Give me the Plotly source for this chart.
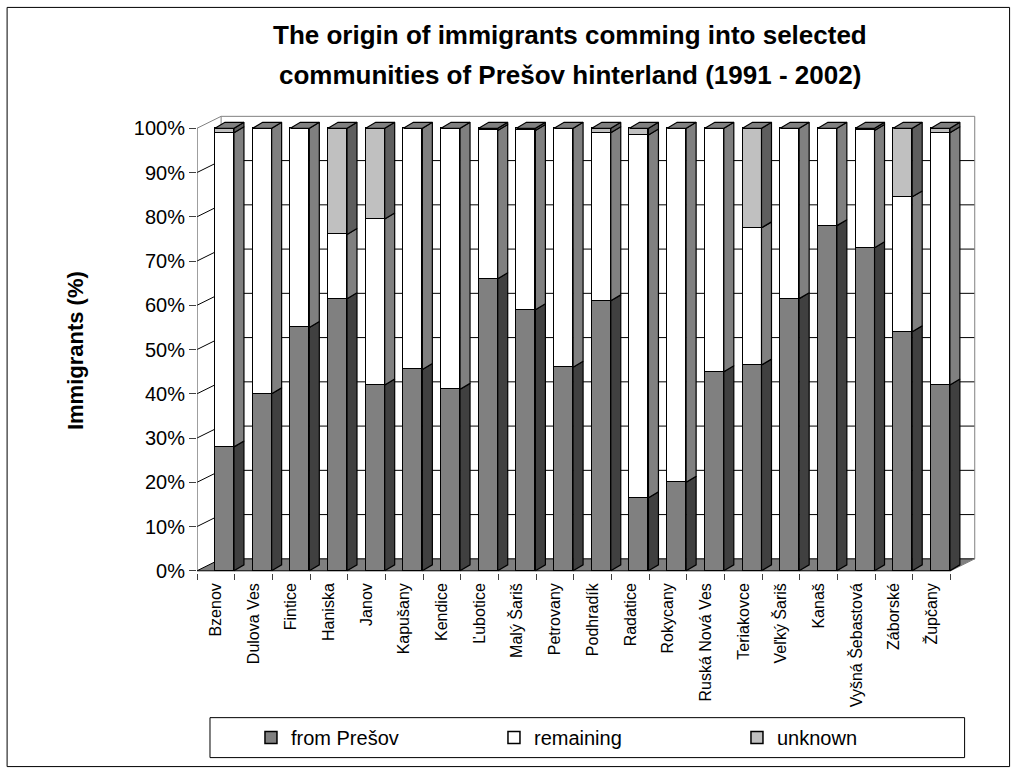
import plotly.graph_objects as go

# ---------------- data ----------------
categories = ["Bzenov", "Dulova Ves", "Fintice", "Haniska", "Janov", "Kapušany", "Kendice",
              "Ľubotice", "Malý Šariš", "Petrovany", "Podhradík", "Radatice", "Rokycany",
              "Ruská Nová Ves", "Teriakovce", "Veľký Šariš", "Kanaš", "Vyšná Šebastová",
              "Záborské", "Župčany"]
from_presov = [28, 40, 55, 61.5, 42, 45.5, 41, 66, 59, 46, 61, 16.5, 20, 45, 46.5, 61.5, 78, 73, 54, 42]
remaining = [71, 60, 45, 14.5, 37.5, 54.5, 59, 33.5, 40.5, 54, 38, 82, 80, 55, 31, 38.5, 22, 26.5, 30.5, 57]
unknown = [1, 0, 0, 24, 20.5, 0, 0, 0.5, 0.5, 0, 1, 1.5, 0, 0, 22.5, 0, 0, 0.5, 15.5, 1]
series_names = ["from Prešov", "remaining", "unknown"]
y_ticks = [0, 10, 20, 30, 40, 50, 60, 70, 80, 90, 100]
y_tick_text = [f"{v}%" for v in y_ticks]

# ---------------- styling / geometry ----------------
FONT = "Liberation Sans, Arial, sans-serif"
front_colors = ["#808080", "#FFFFFF", "#C0C0C0"]
side_colors = ["#404040", "#808080", "#5E5E5E"]
top_color = "#808080"

W, H = 1016, 772
L, R_px = 197, 977.4
B_px, T_px = 573.2, 114.7
X_RANGE = [-0.5, 20.2]
Y_RANGE = [-0.5, 103]

bar_offset, bar_width = -0.023, 0.504   # front face, in category units
side_dx, side_dy = 0.265, 1.35          # bar depth
wall_dx, wall_dy = 0.64, 2.7            # wall depth

def xp(px):
    return (px - L) / (R_px - L)

def yp(py):
    return (B_px - py) / (B_px - T_px)

n = len(categories)
xs = list(range(n))
series = [from_presov, remaining, unknown]

fig = go.Figure()

# front faces (stacked bars)
for name, vals, col in zip(series_names, series, front_colors):
    fig.add_trace(go.Bar(
        x=xs, y=[v if v > 0 else None for v in vals], name=name,
        offset=bar_offset, width=bar_width,
        marker=dict(color=col, line=dict(color="black", width=1.5)),
        cliponaxis=False, hoverinfo="skip"))

# side faces (derived from the stacked data)
for si, (vals, col) in enumerate(zip(series, side_colors)):
    px_, py_ = [], []
    for i in xs:
        lo = sum(series[k][i] for k in range(si))
        hi = lo + vals[i]
        if vals[i] <= 0:
            continue
        x1 = i + bar_offset + bar_width
        px_ += [x1, x1 + side_dx, x1 + side_dx, x1, x1, None]
        py_ += [lo, lo + side_dy, hi + side_dy, hi, lo, None]
    fig.add_trace(go.Scatter(x=px_, y=py_, mode="lines", fill="toself", fillcolor=col,
                             line=dict(color="black", width=1.2), showlegend=False,
                             hoverinfo="skip", cliponaxis=False))

# top faces
tx, ty = [], []
for i in xs:
    tot = from_presov[i] + remaining[i] + unknown[i]
    x0 = i + bar_offset
    x1 = x0 + bar_width
    tx += [x0, x0 + side_dx, x1 + side_dx, x1, x0, None]
    ty += [tot, tot + side_dy, tot + side_dy, tot, tot, None]
fig.add_trace(go.Scatter(x=tx, y=ty, mode="lines", fill="toself", fillcolor=top_color,
                         line=dict(color="black", width=1.2), showlegend=False,
                         hoverinfo="skip", cliponaxis=False))

# ---------------- walls, floor, grid ----------------
shapes = []
xl, xr = -0.5, n - 0.5
shapes.append(dict(type="path", xref="x", yref="y", layer="below",
                   path=f"M{xl},0 L{xl + wall_dx},{wall_dy} L{xr + wall_dx},{wall_dy} L{xr},0 Z",
                   fillcolor="#808080", line=dict(width=0)))
for v in y_ticks:
    c = "#808080" if v == 100 else "black"
    shapes.append(dict(type="line", xref="x", yref="y", layer="below",
                       x0=xl + wall_dx, x1=xr + wall_dx, y0=v + wall_dy, y1=v + wall_dy,
                       line=dict(color=c, width=1)))
    shapes.append(dict(type="line", xref="x", yref="y", layer="below",
                       x0=xl, x1=xl + wall_dx, y0=v, y1=v + wall_dy,
                       line=dict(color=c, width=1)))
shapes.append(dict(type="line", xref="x", yref="y", layer="below", x0=xl, x1=xl, y0=0, y1=100,
                   line=dict(color="#404040", width=1)))
shapes.append(dict(type="line", xref="x", yref="y", layer="below", x0=xl + wall_dx, x1=xl + wall_dx,
                   y0=wall_dy, y1=100 + wall_dy, line=dict(color="#808080", width=1)))
shapes.append(dict(type="line", xref="x", yref="y", layer="below", x0=xr + wall_dx, x1=xr + wall_dx,
                   y0=wall_dy, y1=100 + wall_dy, line=dict(color="#808080", width=1)))
shapes.append(dict(type="line", xref="x", yref="y", layer="below", x0=xl, x1=xr, y0=0, y1=0,
                   line=dict(color="black", width=1)))
shapes.append(dict(type="line", xref="x", yref="y", layer="below", x0=xr, x1=xr + wall_dx,
                   y0=0, y1=wall_dy, line=dict(color="#808080", width=1)))
shapes.append(dict(type="rect", xref="paper", yref="paper", x0=xp(210), x1=xp(965),
                   y0=yp(758), y1=yp(718), line=dict(color="black", width=1)))
shapes.append(dict(type="rect", xref="paper", yref="paper", x0=xp(7), x1=xp(1010),
                   y0=yp(767), y1=yp(7), line=dict(color="black", width=1)))

annotations = [
    dict(text="<b>The origin of immigrants comming into selected</b>", xref="paper", yref="paper",
         x=xp(570), y=yp(35), showarrow=False, font=dict(family=FONT, size=26, color="black"),
         xanchor="center", yanchor="middle"),
    dict(text="<b>communities of Prešov hinterland (1991 - 2002)</b>", xref="paper", yref="paper",
         x=xp(570), y=yp(75), showarrow=False, font=dict(family=FONT, size=26, color="black"),
         xanchor="center", yanchor="middle"),
    dict(text="<b>Immigrants (%)</b>", xref="paper", yref="paper", x=xp(75), y=yp(351),
         textangle=-90, showarrow=False, font=dict(family=FONT, size=22, color="black"),
         xanchor="center", yanchor="middle"),
]

fig.update_layout(
    width=W, height=H,
    margin=dict(l=L, r=W - R_px, t=T_px, b=H - B_px, pad=0),
    paper_bgcolor="white", plot_bgcolor="white",
    barmode="stack", bargap=0,
    font=dict(family=FONT, color="black"),
    shapes=shapes, annotations=annotations,
    showlegend=True,
    legend=dict(orientation="h", x=xp(251), y=yp(738), xanchor="left", yanchor="middle",
                font=dict(family=FONT, size=20), bgcolor="rgba(0,0,0,0)",
                entrywidth=198, entrywidthmode="pixels", traceorder="normal"),
    xaxis=dict(range=X_RANGE, tickmode="array", tickvals=xs, ticktext=categories,
               tickangle=-90, ticks="", showgrid=False, zeroline=False, showline=False,
               tickfont=dict(family=FONT, size=16), ticklabelstandoff=6,
               minor=dict(tickmode="array", tickvals=[i - 0.5 for i in range(n + 1)],
                          ticks="outside", ticklen=6, tickcolor="#404040", showgrid=False)),
    yaxis=dict(range=Y_RANGE, tickmode="array", tickvals=y_ticks, ticktext=y_tick_text,
               ticks="outside", ticklen=7, tickcolor="#404040", showgrid=False,
               zeroline=False, showline=False, tickfont=dict(family=FONT, size=20)),
)

fig.write_html("out.html")
